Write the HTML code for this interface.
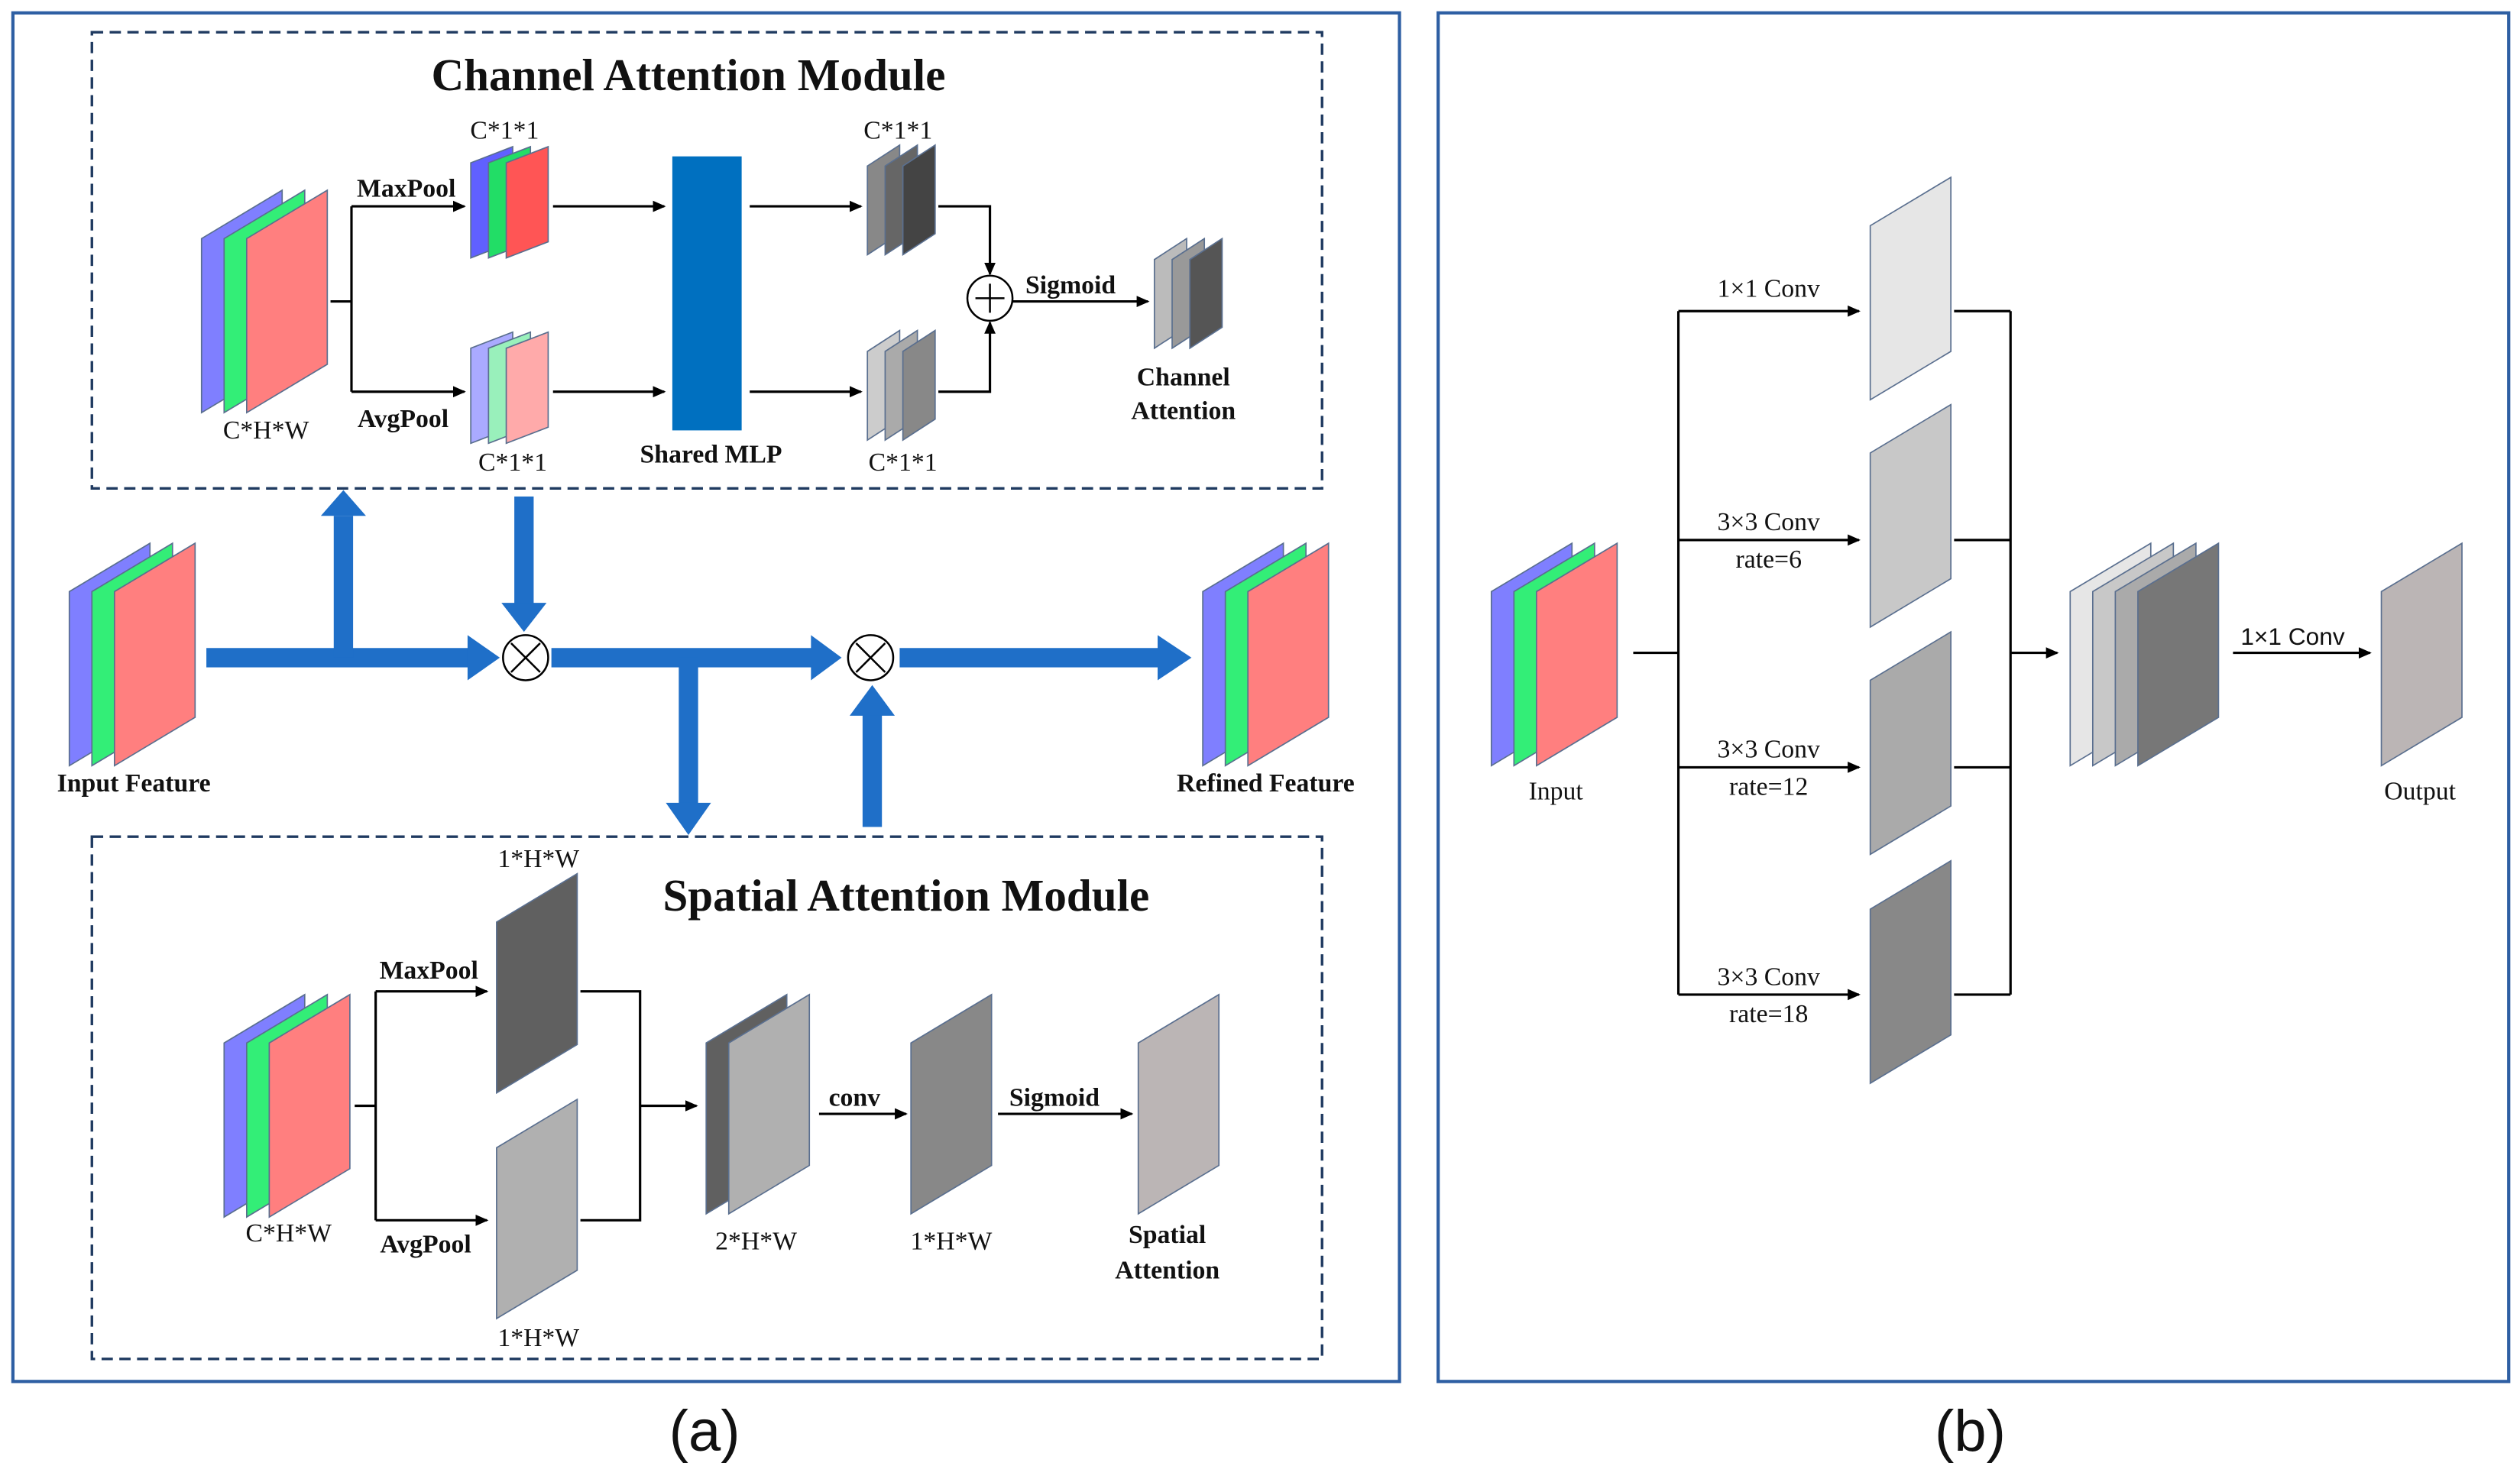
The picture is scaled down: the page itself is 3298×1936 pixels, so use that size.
<!DOCTYPE html>
<html><head><meta charset="utf-8"><style>
html,body{margin:0;padding:0;background:#fff;}
svg{display:block;}
text{font-family:"Liberation Serif",serif;fill:#111;text-anchor:middle;}
.b{font-weight:bold;}
</style></head><body>
<svg width="3298" height="1936" viewBox="0 0 1563 917.5" xmlns="http://www.w3.org/2000/svg">
<defs>
<marker id="ah" markerWidth="8" markerHeight="8" refX="7" refY="4" orient="auto" markerUnits="userSpaceOnUse"><path d="M0,0.5 L8,4 L0,7.5 z" fill="#000"/></marker>
</defs>
<rect width="1563" height="917.5" fill="#fff"/>
<rect x="8" y="8" width="860" height="849" fill="none" stroke="#2e5fa3" stroke-width="2"/>
<rect x="892" y="8" width="664" height="849" fill="none" stroke="#2e5fa3" stroke-width="2"/>
<text x="437" y="900" font-size="36" style="font-family:'Liberation Sans',sans-serif">(a)</text>
<text x="1222" y="900" font-size="36" style="font-family:'Liberation Sans',sans-serif">(b)</text>

<rect x="57" y="20" width="763" height="283" fill="none" stroke="#1f3a60" stroke-width="1.6" stroke-dasharray="7,4"/>
<rect x="57" y="519" width="763" height="324" fill="none" stroke="#1f3a60" stroke-width="1.6" stroke-dasharray="7,4"/>
<text x="427" y="56" font-size="28" class="b">Channel Attention Module</text>
<text x="562" y="565" font-size="28" class="b">Spatial Attention Module</text>

<g stroke="#5a6f8f" stroke-width="0.8">
<!-- Input feature -->
<polygon points="43,367 93,337 93,445 43,475" fill="#7f7fff"/>
<polygon points="57,367 107,337 107,445 57,475" fill="#33ee77"/>
<polygon points="71,367 121,337 121,445 71,475" fill="#ff7f7f"/>
<!-- Refined -->
<polygon points="746,367 796,337 796,445 746,475" fill="#7f7fff"/>
<polygon points="760,367 810,337 810,445 760,475" fill="#33ee77"/>
<polygon points="774,367 824,337 824,445 774,475" fill="#ff7f7f"/>
<!-- channel input -->
<polygon points="125,148 175,118 175,226 125,256" fill="#7f7fff"/>
<polygon points="139,148 189,118 189,226 139,256" fill="#33ee77"/>
<polygon points="153,148 203,118 203,226 153,256" fill="#ff7f7f"/>
<!-- maxpool -->
<polygon points="292,101 318,91 318,150 292,160" fill="#6060ff"/>
<polygon points="303,101 329,91 329,150 303,160" fill="#22dd66"/>
<polygon points="314,101 340,91 340,150 314,160" fill="#ff5555"/>
<!-- avgpool -->
<polygon points="292,216 318,206 318,265 292,275" fill="#aaaaff"/>
<polygon points="303,216 329,206 329,265 303,275" fill="#99f0bb"/>
<polygon points="314,216 340,206 340,265 314,275" fill="#ffaaaa"/>
<!-- gray after MLP -->
<polygon points="538,103 558,90 558,145 538,158" fill="#888"/>
<polygon points="549,103 569,90 569,145 549,158" fill="#666"/>
<polygon points="560,103 580,90 580,145 560,158" fill="#444"/>
<polygon points="538,218 558,205 558,260 538,273" fill="#ccc"/>
<polygon points="549,218 569,205 569,260 549,273" fill="#aaa"/>
<polygon points="560,218 580,205 580,260 560,273" fill="#888"/>
<polygon points="716,161 736,148 736,203 716,216" fill="#bbb"/>
<polygon points="727,161 747,148 747,203 727,216" fill="#999"/>
<polygon points="738,161 758,148 758,203 738,216" fill="#555"/>
<!-- spatial -->
<polygon points="139,647 189,617 189,725 139,755" fill="#7f7fff"/>
<polygon points="153,647 203,617 203,725 153,755" fill="#33ee77"/>
<polygon points="167,647 217,617 217,725 167,755" fill="#ff7f7f"/>
<polygon points="308,572 358,542 358,648 308,678" fill="#606060"/>
<polygon points="308,712 358,682 358,788 308,818" fill="#b0b0b0"/>
<polygon points="438,647 488,617 488,723 438,753" fill="#606060"/>
<polygon points="452,647 502,617 502,723 452,753" fill="#b0b0b0"/>
<polygon points="565,647 615,617 615,723 565,753" fill="#888"/>
<polygon points="706,647 756,617 756,723 706,753" fill="#bbb5b5"/>
<!-- panel b -->
<polygon points="925,367 975,337 975,445 925,475" fill="#7f7fff"/>
<polygon points="939,367 989,337 989,445 939,475" fill="#33ee77"/>
<polygon points="953,367 1003,337 1003,445 953,475" fill="#ff7f7f"/>
<polygon points="1160,140 1210,110 1210,218 1160,248" fill="#e6e6e6"/>
<polygon points="1160,281 1210,251 1210,359 1160,389" fill="#c8c8c8"/>
<polygon points="1160,422 1210,392 1210,500 1160,530" fill="#aaa"/>
<polygon points="1160,564 1210,534 1210,642 1160,672" fill="#888"/>
<polygon points="1284,367 1334,337 1334,445 1284,475" fill="#e6e6e6"/>
<polygon points="1298,367 1348,337 1348,445 1298,475" fill="#c8c8c8"/>
<polygon points="1312,367 1362,337 1362,445 1312,475" fill="#aaa"/>
<polygon points="1326,367 1376,337 1376,445 1326,475" fill="#777"/>
<polygon points="1477,367 1527,337 1527,445 1477,475" fill="#bbb5b5"/>
</g>
<rect x="417" y="97" width="43" height="170" fill="#0070c0"/>

<g stroke="#000" stroke-width="1.5" fill="none">
<path d="M205,187 H218 M218,128 V243"/>
<path d="M218,128 H288" marker-end="url(#ah)"/>
<path d="M218,243 H288" marker-end="url(#ah)"/>
<path d="M343,128 H412" marker-end="url(#ah)"/>
<path d="M343,243 H412" marker-end="url(#ah)"/>
<path d="M465,128 H534" marker-end="url(#ah)"/>
<path d="M465,243 H534" marker-end="url(#ah)"/>
<path d="M582,128 H614 V170" marker-end="url(#ah)"/>
<path d="M582,243 H614 V200" marker-end="url(#ah)"/>
<path d="M628,187 H712" marker-end="url(#ah)"/>
<circle cx="614" cy="185" r="14" fill="#fff" stroke-width="1.2"/>
<path d="M614,176 V194 M605,185 H623" stroke-width="1.2"/>
<!-- spatial -->
<path d="M220,686 H233 M233,615 V757"/>
<path d="M233,615 H302" marker-end="url(#ah)"/>
<path d="M233,757 H302" marker-end="url(#ah)"/>
<path d="M360,615 H397 V757 H360"/>
<path d="M397,686 H432" marker-end="url(#ah)"/>
<path d="M508,691 H562" marker-end="url(#ah)"/>
<path d="M619,691 H702" marker-end="url(#ah)"/>
<!-- panel b -->
<path d="M1013,405 H1041 M1041,193 V617"/>
<path d="M1041,193 H1153" marker-end="url(#ah)"/>
<path d="M1041,335 H1153" marker-end="url(#ah)"/>
<path d="M1041,476 H1153" marker-end="url(#ah)"/>
<path d="M1041,617 H1153" marker-end="url(#ah)"/>
<path d="M1212,193 H1247 M1212,335 H1247 M1212,476 H1247 M1212,617 H1247 M1247,193 V617"/>
<path d="M1247,405 H1276" marker-end="url(#ah)"/>
<path d="M1385,405 H1470" marker-end="url(#ah)"/>
</g>

<!-- big blue arrows -->
<g fill="#1f6fc8">
<rect x="128" y="402" width="165" height="12"/>
<polygon points="290,394 310,408 290,422"/>
<rect x="207" y="320" width="12" height="88"/>
<polygon points="199,320 213,304 227,320"/>
<rect x="319" y="308" width="12" height="68"/>
<polygon points="311,374 325,392 339,374"/>
<rect x="342" y="402" width="163" height="12"/>
<polygon points="503,394 522,408 503,422"/>
<rect x="421" y="408" width="12" height="92"/>
<polygon points="413,498 427,518 441,498"/>
<rect x="535" y="442" width="12" height="71"/>
<polygon points="527,444 541,425 555,444"/>
<rect x="558" y="402" width="162" height="12"/>
<polygon points="718,394 739,408 718,422"/>
</g>
<g fill="#fff" stroke="#000" stroke-width="1.2">
<circle cx="326" cy="408" r="14"/>
<circle cx="540" cy="408" r="14"/>
</g>
<g stroke="#000" stroke-width="1.2">
<path d="M317,399 L335,417 M335,399 L317,417"/>
<path d="M531,399 L549,417 M549,399 L531,417"/>
</g>

<g font-size="16">
<text x="83" y="491" class="b">Input Feature</text>
<text x="785" y="491" class="b">Refined Feature</text>
<text x="165" y="272">C*H*W</text>
<text x="252" y="122" class="b">MaxPool</text>
<text x="250" y="265" class="b">AvgPool</text>
<text x="313" y="86">C*1*1</text>
<text x="318" y="292">C*1*1</text>
<text x="441" y="287" class="b">Shared MLP</text>
<text x="557" y="86">C*1*1</text>
<text x="560" y="292">C*1*1</text>
<text x="664" y="182" class="b">Sigmoid</text>
<text x="734" y="239" class="b">Channel</text>
<text x="734" y="260" class="b">Attention</text>
<text x="179" y="770">C*H*W</text>
<text x="266" y="607" class="b">MaxPool</text>
<text x="264" y="777" class="b">AvgPool</text>
<text x="334" y="538">1*H*W</text>
<text x="334" y="835">1*H*W</text>
<text x="469" y="775">2*H*W</text>
<text x="530" y="686" class="b">conv</text>
<text x="590" y="775">1*H*W</text>
<text x="654" y="686" class="b">Sigmoid</text>
<text x="724" y="771" class="b">Spatial</text>
<text x="724" y="793" class="b">Attention</text>
<text x="965" y="496">Input</text>
<text x="1501" y="496">Output</text>
<text x="1097" y="184">1×1 Conv</text>
<text x="1097" y="329">3×3 Conv</text>
<text x="1097" y="352">rate=6</text>
<text x="1097" y="470">3×3 Conv</text>
<text x="1097" y="493">rate=12</text>
<text x="1097" y="611">3×3 Conv</text>
<text x="1097" y="634">rate=18</text>
<text x="1422" y="400" style="font-family:'Liberation Sans',sans-serif" font-size="15">1×1 Conv</text>
</g>
</svg>
</body></html>
